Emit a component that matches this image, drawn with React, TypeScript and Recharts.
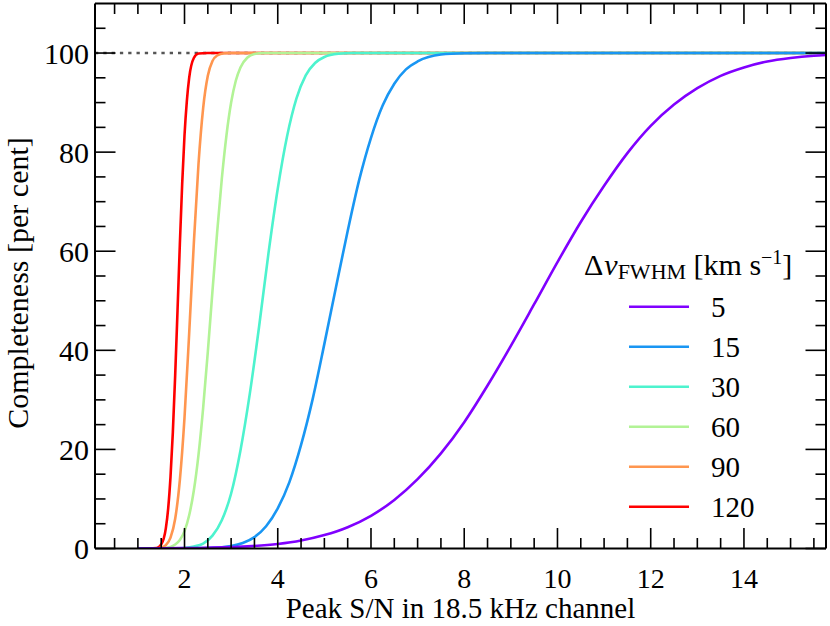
import { LineChart, Line, XAxis, YAxis } from 'recharts'

// Δv_FWHM legend order and colours (rainbow map)
const widths = ['5', '15', '30', '60', '90', '120']
const colors = ['#8000ff', '#1996f3', '#4df3ce', '#b2f396', '#ff964f', '#ff0000']

// completeness curves (peak S/N, per cent)
const snr5 = [1.0, 2.0, 3.0, 4.0, 4.5, 5.0, 5.5, 6.0, 6.5, 7.0, 7.5, 8.0, 8.5, 9.0, 9.5, 10.0, 10.5, 11.0, 11.5, 12.0, 12.5, 13.0, 13.5, 14.0, 14.5, 15.0, 15.5, 15.76]
const comp5 = [0, 0.07, 0.3, 0.9, 1.6, 2.7, 4.3, 6.6, 9.8, 14.0, 19.2, 25.5, 32.9, 40.9, 49.3, 57.8, 65.9, 73.2, 79.8, 85.3, 89.6, 92.9, 95.4, 97.1, 98.3, 99.0, 99.45, 99.6]

const snr15 = [1.0, 2.5, 3.0, 3.25, 3.5, 3.75, 4.0, 4.25, 4.5, 4.75, 5.0, 5.25, 5.5, 5.75, 6.0, 6.25, 6.5, 6.75, 7.0, 7.5, 8.0, 8.5, 15.76]
const comp15 = [0, 0.1, 0.5, 1.1, 2.3, 4.5, 8.1, 13.4, 20.9, 30.2, 41.3, 52.8, 64.1, 74.5, 82.9, 89.4, 93.8, 96.7, 98.3, 99.7, 99.95, 100, 100]

const snr30 = [1.0, 1.8, 2.0, 2.2, 2.4, 2.6, 2.8, 3.0, 3.2, 3.4, 3.6, 3.8, 4.0, 4.2, 4.4, 4.6, 4.8, 5.0, 5.3, 5.6, 15.76]
const comp30 = [0, 0, 0.1, 0.4, 1.0, 2.6, 5.7, 11.1, 19.8, 31.2, 44.8, 59.5, 72.6, 83.2, 90.8, 95.5, 98, 99.2, 99.85, 100, 100]

const snr60 = [1.0, 1.5, 1.7, 1.8, 1.9, 2.0, 2.1, 2.2, 2.3, 2.4, 2.5, 2.6, 2.7, 2.8, 2.9, 3.0, 3.1, 3.2, 3.35, 3.5, 3.7, 15.76]
const comp60 = [0, 0, 0.3, 0.8, 1.7, 3.5, 6.7, 11.7, 18.9, 28.4, 39.7, 52, 63.8, 74.6, 83.4, 90, 94.4, 97.1, 99.1, 99.8, 100, 100]

const snr90 = [1.0, 1.4, 1.5, 1.6, 1.7, 1.8, 1.9, 2.0, 2.1, 2.2, 2.3, 2.4, 2.5, 2.6, 2.7, 2.85, 3.0, 15.76]
const comp90 = [0, 0, 0.2, 0.7, 2.2, 6.0, 13.8, 26.4, 43.4, 61.6, 77.6, 88.9, 95.4, 98.4, 99.5, 99.95, 100, 100]

const snr120 = [1.0, 1.4, 1.5, 1.6, 1.65, 1.7, 1.75, 1.8, 1.85, 1.9, 1.95, 2.0, 2.05, 2.1, 2.2, 2.3, 2.5, 15.76]
const comp120 = [0, 0.1, 0.8, 4.1, 8.1, 14.5, 23.5, 35, 48, 61.4, 73.6, 83.4, 90.3, 95, 99, 99.9, 100, 100]

// 100 per cent guide
const guideX = [0.08, 15.76]
const guideY = [100, 100]

const xTicks = [0.5, 1, 1.5, 2, 2.5, 3, 3.5, 4, 4.5, 5, 5.5, 6, 6.5, 7, 7.5, 8, 8.5, 9, 9.5, 10, 10.5, 11, 11.5, 12, 12.5, 13, 13.5, 14, 14.5, 15, 15.5]
const yTicks = [0, 5, 10, 15, 20, 25, 30, 35, 40, 45, 50, 55, 60, 65, 70, 75, 80, 85, 90, 95, 100, 105]

const pts = (xs: number[], ys: number[]) => xs.map((x, i) => ({ x, y: ys[i] }))

const series = [
  { key: '120', data: pts(snr120, comp120) },
  { key: '90', data: pts(snr90, comp90) },
  { key: '60', data: pts(snr60, comp60) },
  { key: '30', data: pts(snr30, comp30) },
  { key: '15', data: pts(snr15, comp15) },
  { key: '5', data: pts(snr5, comp5) },
]

const SERIF = 'Liberation Serif'
const MAJOR = 20.5
const MINOR = 10.5

const isMult = (v: number, m: number) => Math.abs(v / m - Math.round(v / m)) < 1e-6

const BottomTick = ({ x, y, payload }: any) => {
  const major = isMult(payload.value, 2)
  return (
    <g>
      <line x1={x} x2={x} y1={y} y2={y - (major ? MAJOR : MINOR)} stroke="#000" strokeWidth={1.6} />
      {major && (
        <text x={x} y={y + 39.5} textAnchor="middle" fontFamily={SERIF} fontSize={28} fill="#000">
          {String(payload.value)}
        </text>
      )}
    </g>
  )
}

const TopTick = ({ x, y, payload }: any) => {
  const major = isMult(payload.value, 2)
  return <line x1={x} x2={x} y1={y} y2={y + (major ? MAJOR : MINOR)} stroke="#000" strokeWidth={1.6} />
}

const LeftTick = ({ x, y, payload }: any) => {
  const major = isMult(payload.value, 20) && payload.value <= 100
  return (
    <g>
      <line x1={x} x2={x + (major ? MAJOR : MINOR)} y1={y} y2={y} stroke="#000" strokeWidth={1.6} />
      {major && (
        <text x={x - 6} y={y} dy="0.35em" textAnchor="end" fontFamily={SERIF} fontSize={30} fill="#000">
          {String(payload.value)}
        </text>
      )}
    </g>
  )
}

const RightTick = ({ x, y, payload }: any) => {
  const major = isMult(payload.value, 20) && payload.value <= 100
  return <line x1={x} x2={x - (major ? MAJOR : MINOR)} y1={y} y2={y} stroke="#000" strokeWidth={1.6} />
}

const XLabel = ({ viewBox }: any) => (
  <text x={viewBox.x + viewBox.width / 2} y={618} textAnchor="middle" fontFamily={SERIF} fontSize={29} fill="#000">
    Peak S/N in 18.5 kHz channel
  </text>
)

const YLabel = () => {
  const cx = 28
  const cy = 283
  return (
    <text x={cx} y={cy} transform={`rotate(-90, ${cx}, ${cy})`} textAnchor="middle" fontFamily={SERIF} fontSize={30} fill="#000">
      Completeness [per cent]
    </text>
  )
}

function LegendBox() {
  return (
    <svg width={830} height={626} style={{ position: 'absolute', left: 0, top: 0, pointerEvents: 'none' }}>
      <text x={584} y={275} fontFamily={SERIF} fontSize={30} fill="#000">
        <tspan>Δ</tspan>
        <tspan fontStyle="italic" dx={1}>v</tspan>
        <tspan fontSize={22} dy={4}>FWHM</tspan>
        <tspan dy={-4}> [km s</tspan>
        <tspan fontSize={20} dy={-11}>−1</tspan>
        <tspan dy={11}>]</tspan>
      </text>
      {widths.map((w, i) => {
        const yy = 306.7 + i * 40
        return (
          <g key={w}>
            <line x1={629} x2={689} y1={yy} y2={yy} stroke={colors[i]} strokeWidth={2.6} />
            <text x={711} y={yy + 10} fontFamily={SERIF} fontSize={29} fill="#000">
              {w}
            </text>
          </g>
        )
      })}
    </svg>
  )
}

export default function App() {
  const colorOf = (k: string) => colors[widths.indexOf(k)]
  return (
    <div style={{ position: 'absolute', left: 0, top: 0, width: 830, height: 626, background: '#fff' }}>
      <LineChart width={830} height={626} margin={{ top: 0, right: 0, bottom: 0, left: 0 }}>
        <XAxis
          xAxisId="b"
          type="number"
          dataKey="x"
          domain={[0.08, 15.76]}
          allowDataOverflow
          ticks={xTicks}
          interval={0}
          tickSize={0}
          tickMargin={0}
          tickLine={false}
          axisLine={{ stroke: '#000', strokeWidth: 2 }}
          tick={(p: any) => <BottomTick {...p} />}
          height={77.5}
          label={(p: any) => <XLabel {...p} />}
        />
        <XAxis
          xAxisId="t"
          orientation="top"
          type="number"
          dataKey="x"
          domain={[0.08, 15.76]}
          allowDataOverflow
          ticks={xTicks}
          interval={0}
          tickSize={0}
          tickMargin={0}
          tickLine={false}
          axisLine={{ stroke: '#000', strokeWidth: 2 }}
          tick={(p: any) => <TopTick {...p} />}
          height={3.5}
        />
        <YAxis
          yAxisId="l"
          type="number"
          dataKey="y"
          domain={[0, 110]}
          allowDataOverflow
          ticks={yTicks}
          interval={0}
          tickSize={0}
          tickMargin={0}
          tickLine={false}
          axisLine={{ stroke: '#000', strokeWidth: 2 }}
          tick={(p: any) => <LeftTick {...p} />}
          width={95}
          label={() => <YLabel />}
        />
        <YAxis
          yAxisId="r"
          orientation="right"
          type="number"
          dataKey="y"
          domain={[0, 110]}
          allowDataOverflow
          ticks={yTicks}
          interval={0}
          tickSize={0}
          tickMargin={0}
          tickLine={false}
          axisLine={{ stroke: '#000', strokeWidth: 2 }}
          tick={(p: any) => <RightTick {...p} />}
          width={4}
        />
        <Line
          xAxisId="t"
          yAxisId="r"
          data={pts(guideX, guideY)}
          dataKey="y"
          stroke="#555"
          strokeWidth={2.5}
          strokeDasharray="3.3 5"
          dot={false}
          activeDot={false}
          isAnimationActive={false}
        />
        {series.map((s) => (
          <Line
            key={s.key}
            xAxisId="b"
            yAxisId="l"
            data={s.data}
            dataKey="y"
            type="monotone"
            stroke={colorOf(s.key)}
            strokeWidth={2.6}
            dot={false}
            activeDot={false}
            isAnimationActive={false}
          />
        ))}
      </LineChart>
      <LegendBox />
    </div>
  )
}
